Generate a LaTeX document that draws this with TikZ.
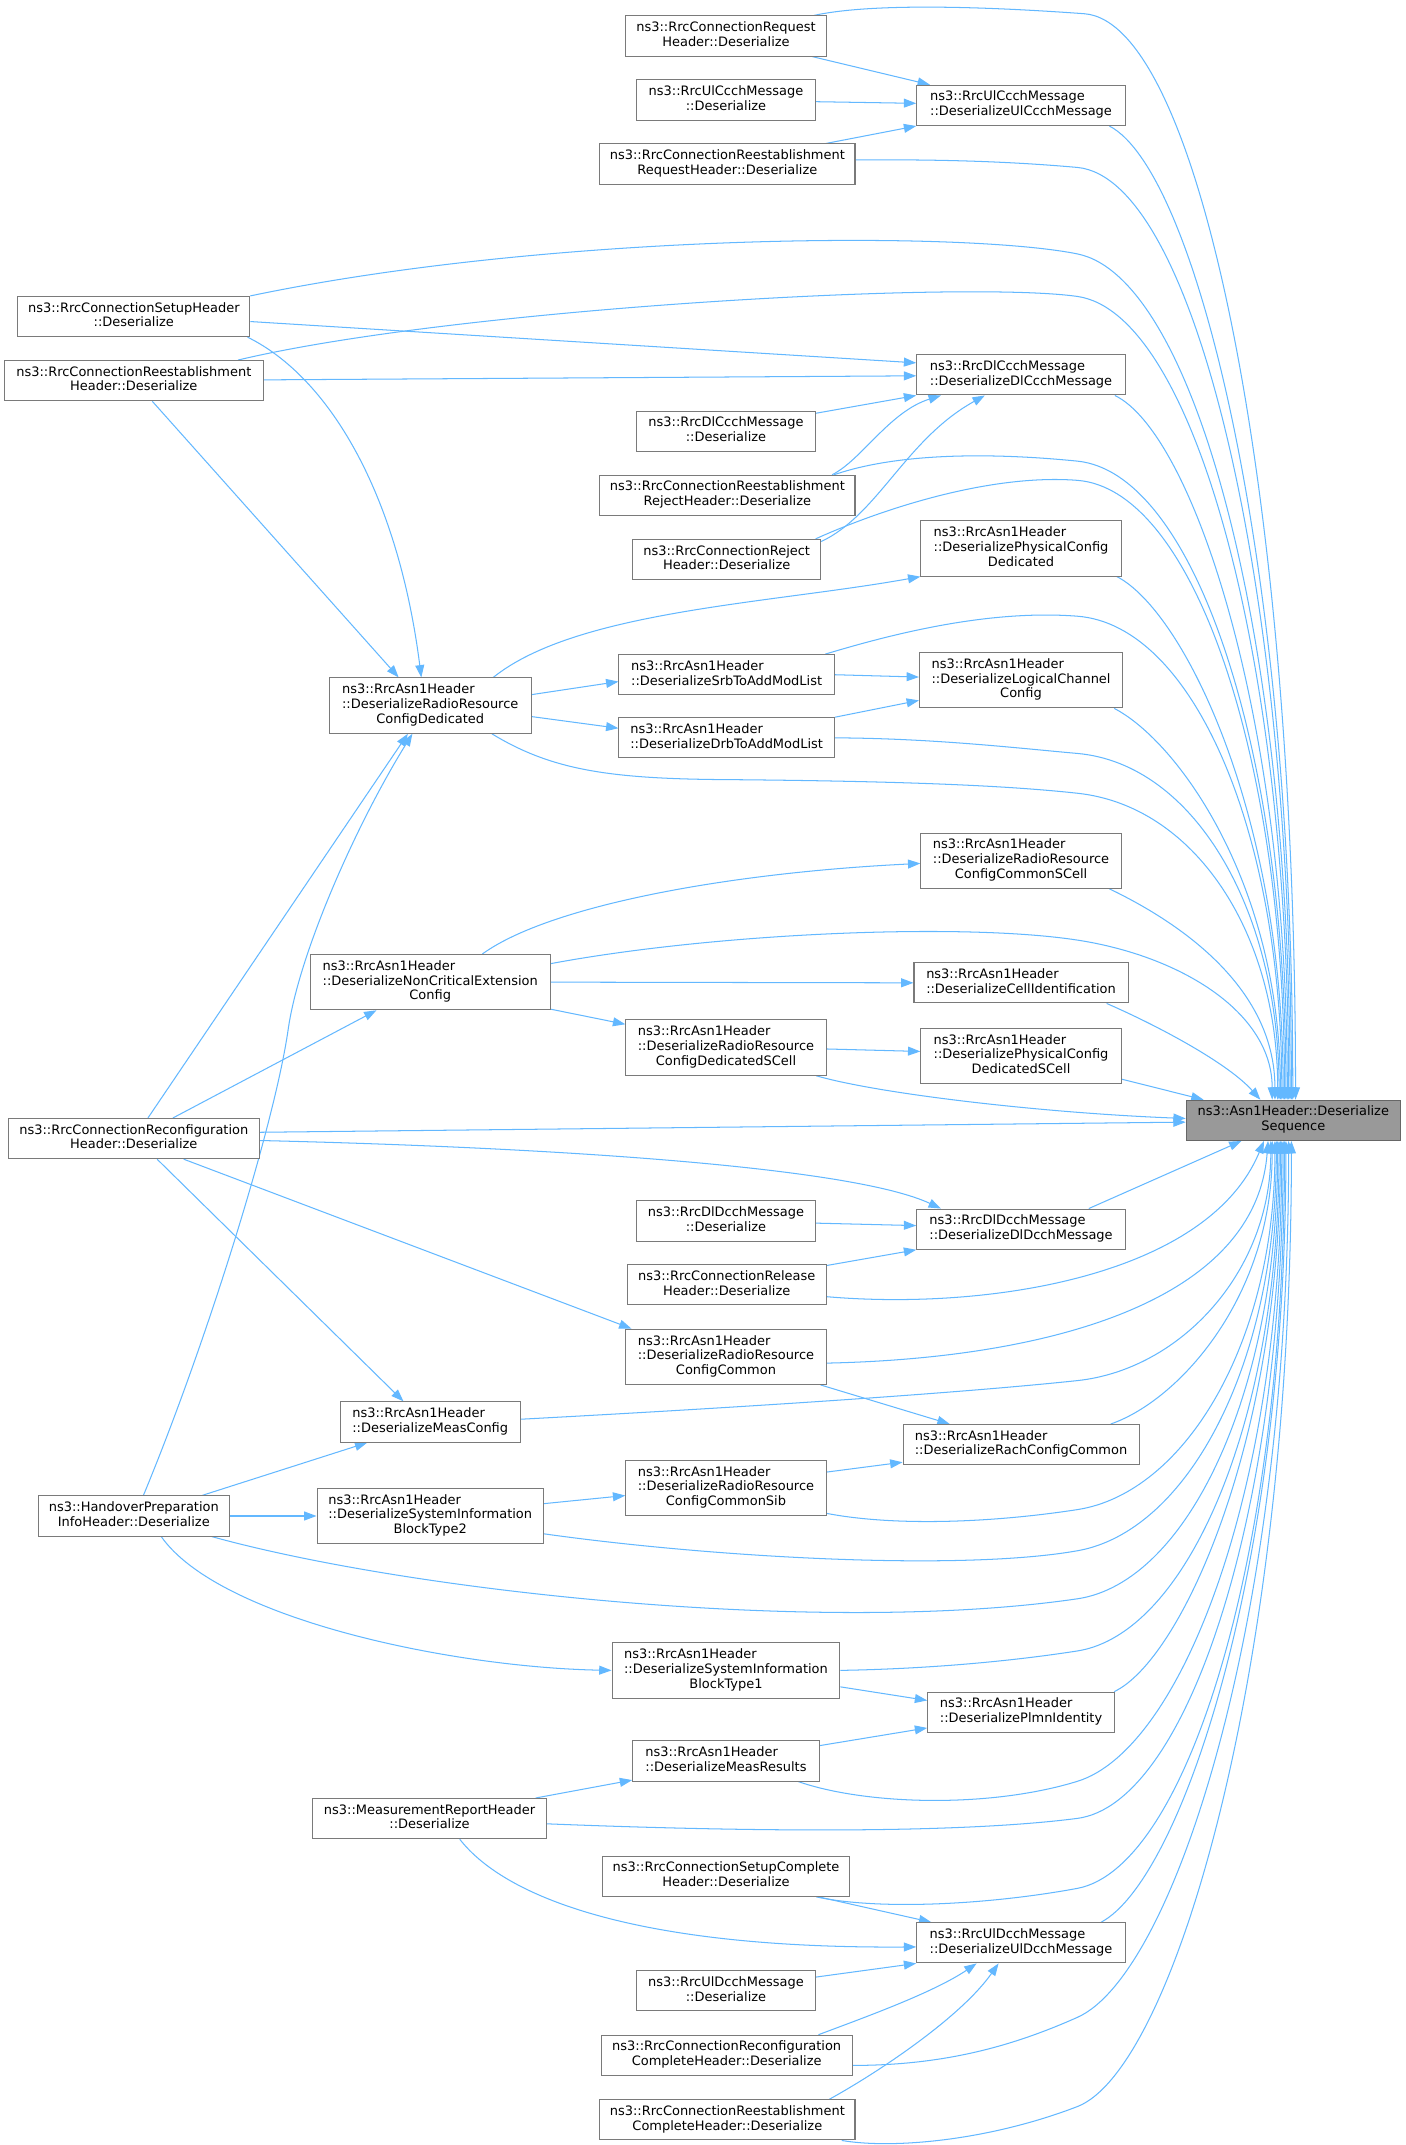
\documentclass[tikz,border=0pt]{standalone}
\usepackage{fontspec}
\setmainfont{DejaVu Sans}
\usetikzlibrary{arrows.meta,calc,backgrounds}
\definecolor{edgec}{HTML}{63B8FF}
\definecolor{boxc}{HTML}{7A7A7A}
\definecolor{tgtfill}{HTML}{999999}
\definecolor{tgtdraw}{HTML}{666666}
\newcommand{\nlab}[2]{\begin{tabular}{@{}l@{}}#1\\\multicolumn{1}{@{}c@{}}{#2}\end{tabular}}
\newcommand{\nodefont}{\fontsize{9.45}{10.7}\selectfont}
\begin{document}
\begin{tikzpicture}[x=1pt,y=-1pt,
  box/.style={draw=boxc, fill=white, line width=0.75pt, inner sep=0pt, minimum height=29.3pt, font=\nodefont},
  box3/.style={box, minimum height=40.3pt},
  tgt/.style={box, fill=tgtfill, draw=tgtdraw},
  e/.style={draw=edgec, line width=0.75pt, -{Triangle[length=9pt,width=6.5pt]}}]
\useasboundingbox (0,0) rectangle (1024,1563);
% nodes
\node[tgt, minimum width=156pt] (T) at (942.4,816.35) {\nlab{ns3::Asn1Header::Deserialize}{Sequence}};
\node[box, minimum width=146pt] (A1) at (529,26.25) {\nlab{ns3::RrcConnectionRequest}{Header::Deserialize}};
\node[box, minimum width=130pt] (A2) at (529,72.9) {\nlab{ns3::RrcUlCcchMessage}{::Deserialize}};
\node[box, minimum width=186pt] (A3) at (530,119.55) {\nlab{ns3::RrcConnectionReestablishment}{RequestHeader::Deserialize}};
\node[box, minimum width=152pt] (B1) at (744,76.8) {\nlab{ns3::RrcUlCcchMessage}{::DeserializeUlCcchMessage}};
\node[box, minimum width=169pt] (Setup) at (97.5,230.65) {\nlab{ns3::RrcConnectionSetupHeader}{::Deserialize}};
\node[box, minimum width=189pt] (ReestH) at (97.5,277.4) {\nlab{ns3::RrcConnectionReestablishment}{Header::Deserialize}};
\node[box, minimum width=152pt] (DlCcch) at (744,273.15) {\nlab{ns3::RrcDlCcchMessage}{::DeserializeDlCcchMessage}};
\node[box, minimum width=130pt] (DlCcchDes) at (529,314.15) {\nlab{ns3::RrcDlCcchMessage}{::Deserialize}};
\node[box, minimum width=186pt] (ReestReject) at (530,360.95) {\nlab{ns3::RrcConnectionReestablishment}{RejectHeader::Deserialize}};
\node[box, minimum width=137pt] (ConnReject) at (529.5,407.65) {\nlab{ns3::RrcConnectionReject}{Header::Deserialize}};
\node[box3, minimum width=146pt] (PhysDed) at (744,399.65) {\nlab{ns3::RrcAsn1Header\\::DeserializePhysicalConfig}{Dedicated}};
\node[box, minimum width=157pt] (Srb) at (529.5,491.65) {\nlab{ns3::RrcAsn1Header}{::DeserializeSrbToAddModList}};
\node[box3, minimum width=148pt] (LogCh) at (744,495.65) {\nlab{ns3::RrcAsn1Header\\::DeserializeLogicalChannel}{Config}};
\node[box3, minimum width=147pt] (RRCD) at (313.5,514.15) {\nlab{ns3::RrcAsn1Header\\::DeserializeRadioResource}{ConfigDedicated}};
\node[box, minimum width=157pt] (Drb) at (529.5,537.65) {\nlab{ns3::RrcAsn1Header}{::DeserializeDrbToAddModList}};
\node[box3, minimum width=146pt] (RRCCommonSCell) at (744,627.15) {\nlab{ns3::RrcAsn1Header\\::DeserializeRadioResource}{ConfigCommonSCell}};
\node[box3, minimum width=175pt] (NonCrit) at (313.5,715.65) {\nlab{ns3::RrcAsn1Header\\::DeserializeNonCriticalExtension}{Config}};
\node[box, minimum width=156pt] (CellId) at (744,716.15) {\nlab{ns3::RrcAsn1Header}{::DeserializeCellIdentification}};
\node[box3, minimum width=146pt] (RRCDedSCell) at (529,763.35) {\nlab{ns3::RrcAsn1Header\\::DeserializeRadioResource}{ConfigDedicatedSCell}};
\node[box3, minimum width=146pt] (PhysDedSCell) at (744,769.35) {\nlab{ns3::RrcAsn1Header\\::DeserializePhysicalConfig}{DedicatedSCell}};
\node[box, minimum width=183pt] (RecfgHeader) at (97.5,829.65) {\nlab{ns3::RrcConnectionReconfiguration}{Header::Deserialize}};
\node[box, minimum width=152pt] (DlDcch) at (744,895.65) {\nlab{ns3::RrcDlDcchMessage}{::DeserializeDlDcchMessage}};
\node[box, minimum width=130pt] (DlDcchDes) at (529,889.65) {\nlab{ns3::RrcDlDcchMessage}{::Deserialize}};
\node[box, minimum width=145pt] (ConnRelease) at (529.5,936.15) {\nlab{ns3::RrcConnectionRelease}{Header::Deserialize}};
\node[box3, minimum width=146pt] (RRCCommon) at (529,988.65) {\nlab{ns3::RrcAsn1Header\\::DeserializeRadioResource}{ConfigCommon}};
\node[box, minimum width=131pt] (MeasConfig) at (313.5,1036.15) {\nlab{ns3::RrcAsn1Header}{::DeserializeMeasConfig}};
\node[box, minimum width=172pt] (RachCfg) at (744,1052.65) {\nlab{ns3::RrcAsn1Header}{::DeserializeRachConfigCommon}};
\node[box3, minimum width=146pt] (RRCCommonSib) at (529,1084.15) {\nlab{ns3::RrcAsn1Header\\::DeserializeRadioResource}{ConfigCommonSib}};
\node[box, minimum width=139pt] (Handover) at (97.5,1104.65) {\nlab{ns3::HandoverPreparation}{InfoHeader::Deserialize}};
\node[box3, minimum width=165pt] (SIB2) at (313.5,1104.65) {\nlab{ns3::RrcAsn1Header\\::DeserializeSystemInformation}{BlockType2}};
\node[box3, minimum width=166pt] (SIB1) at (529,1217.15) {\nlab{ns3::RrcAsn1Header\\::DeserializeSystemInformation}{BlockType1}};
\node[box, minimum width=136pt] (Plmn) at (744,1247.65) {\nlab{ns3::RrcAsn1Header}{::DeserializePlmnIdentity}};
\node[box, minimum width=136pt] (MeasResults) at (529,1283.15) {\nlab{ns3::RrcAsn1Header}{::DeserializeMeasResults}};
\node[box, minimum width=170pt] (MeasReport) at (313,1325.15) {\nlab{ns3::MeasurementReportHeader}{::Deserialize}};
\node[box, minimum width=180pt] (SetupComplete) at (529,1367.15) {\nlab{ns3::RrcConnectionSetupComplete}{Header::Deserialize}};
\node[box, minimum width=152pt] (UlDcch) at (744,1415.65) {\nlab{ns3::RrcUlDcchMessage}{::DeserializeUlDcchMessage}};
\node[box, minimum width=130pt] (UlDcchDes) at (529,1450.65) {\nlab{ns3::RrcUlDcchMessage}{::Deserialize}};
\node[box, minimum width=183pt] (RecfgComplete) at (529.5,1497.65) {\nlab{ns3::RrcConnectionReconfiguration}{CompleteHeader::Deserialize}};
\node[box, minimum width=186pt] (ReestComplete) at (530,1544.65) {\nlab{ns3::RrcConnectionReestablishment}{CompleteHeader::Deserialize}};
\begin{scope}[on background layer]
\fill[white] (0,0) rectangle (1024,1563);
% edges into target from above / left
\draw[e] ($(A1.north east)+(-9.2,0)$) .. controls (640,1) and (735,6) .. (790,10) .. controls (875,16) and (944,366) .. ($(T.north)+(1.6,0)$);
\draw[e] ($(B1.south east)+(-12,0)$) .. controls (872,125) and (942,411) .. ($(T.north)+(-0.4,0)$);
\draw[e] ($(A3.east)+(0,-3)$) .. controls (690,116) and (740,118) .. (785,122) .. controls (871,130) and (941,428) .. ($(T.north)+(-1.4,0)$);
\draw[e] (Setup.north east) .. controls (400,170) and (700,168) .. (785,185) .. controls (870,202) and (940,462) .. ($(T.north)+(-2.4,0)$);
\draw[e] ($(ReestH.north east)+(-19,0)$) .. controls (330,225) and (700,204) .. (785,216) .. controls (870,228) and (939,480) .. ($(T.north)+(-3.4,0)$);
\draw[e] ($(DlCcch.south east)+(-8,0)$) .. controls (868,315) and (938,519) .. ($(T.north)+(-4.4,0)$);
\draw[e] ($(ReestReject.north east)+(-15.6,0)$) .. controls (660,328) and (735,331) .. (785,336) .. controls (870,344.5) and (937,545) .. ($(T.north)+(-5.4,0)$);
\draw[e] ($(ConnReject.north east)+(-4,0)$) .. controls (640,372) and (720,345) .. (785,350) .. controls (870,356.5) and (936,553) .. ($(T.north)+(-6.4,0)$);
\draw[e] ($(PhysDed.south east)+(-3.5,0)$) .. controls (862,445) and (935,592) .. ($(T.north)+(-7.4,0)$);
\draw[e] ($(Srb.north east)+(-7,0)$) .. controls (650,462) and (720,444) .. (785,449) .. controls (870,455.5) and (934,608) .. ($(T.north)+(-8.4,0)$);
\draw[e] ($(LogCh.south east)+(-6.5,0)$) .. controls (858,540) and (933,644) .. ($(T.north)+(-9.4,0)$);
\draw[e] (Drb.east) .. controls (680,538) and (740,545) .. (785,549) .. controls (870,556.5) and (932,663) .. ($(T.north)+(-10.4,0)$);
\draw[e] ($(RRCD.south east)+(-29,0)$) .. controls (400,560) and (440,567) .. (520,568) .. controls (650,569) and (730,572) .. (785,578) .. controls (870,587) and (931,679) .. ($(T.north)+(-11.4,0)$);
\draw[e] ($(RRCCommonSCell.south east)+(-9,0)$) .. controls (855,670) and (929,717) .. ($(T.north)+(-13.4,0)$);
\draw[e] ($(NonCrit.east)+(0,-13.5)$) .. controls (520,680) and (700,672) .. (785,685) .. controls (860,696.5) and (927,737.5) .. ($(T.north)+(-15.4,0)$);
\draw[e] ($(CellId.south east)+(-16,0)$) .. controls (845,748) and (895,775) .. ($(T.north)+(-24,0)$);
\draw[e] ($(PhysDedSCell.east)+(0,17)$) -- ($(T.north west)+(13,0)$);
\draw[e] ($(RRCDedSCell.south east)+(-7.6,0)$) .. controls (640,797) and (760,811) .. ($(T.west)+(0,-1.35)$);
\draw[e] ($(RecfgHeader.east)+(0,-4.6)$) -- ($(T.west)+(0,1.3)$);
% edges into target from below
\draw[e] ($(DlDcch.north east)+(-27,0)$) -- ($(T.south west)+(40.6,0)$);
\draw[e] ($(ConnRelease.east)+(0,8.7)$) .. controls (720,955) and (880,930) .. ($(T.south)+(-21.4,0)$);
\draw[e] ($(RRCCommon.east)+(0,4.6)$) .. controls (760,990) and (915,950) .. ($(T.south)+(-18.4,0)$);
\draw[e] ($(MeasConfig.east)+(0,-2)$) .. controls (550,1025) and (700,1015) .. (785,1006) .. controls (860,998) and (926,927) .. ($(T.south)+(-16.4,0)$);
\draw[e] ($(RachCfg.north east)+(-21,0)$) .. controls (860,1020) and (927,944) .. ($(T.south)+(-15.4,0)$);
\draw[e] ($(RRCCommonSib.south east)+(-0.4,-2)$) .. controls (650,1112) and (720,1110) .. (785,1100) .. controls (863,1088) and (929,979) .. ($(T.south)+(-13.4,0)$);
\draw[e] ($(SIB2.east)+(0,13)$) .. controls (520,1135) and (700,1145) .. (785,1130) .. controls (865,1116) and (930,995) .. ($(T.south)+(-12.4,0)$);
\draw[e] ($(Handover.south east)+(-13,0)$) .. controls (300,1160) and (600,1192) .. (785,1165) .. controls (865,1153.3) and (931,1014.7) .. ($(T.south)+(-11.4,0)$);
\draw[e] (SIB1.east) .. controls (680,1216) and (740,1210) .. (785,1203) .. controls (865,1190.5) and (932,1035.6) .. ($(T.south)+(-10.4,0)$);
\draw[e] ($(Plmn.north east)+(-0.5,0)$) .. controls (860,1210) and (933,1052) .. ($(T.south)+(-9.4,0)$);
\draw[e] ($(MeasResults.south east)+(-15.7,0)$) .. controls (630,1315) and (720,1318) .. (785,1298) .. controls (860,1275) and (934,1088) .. ($(T.south)+(-8.4,0)$);
\draw[e] ($(MeasReport.east)+(0,3.8)$) .. controls (550,1335) and (700,1336) .. (785,1325) .. controls (865,1314.6) and (935,1102.7) .. ($(T.south)+(-7.4,0)$);
\draw[e] ($(SetupComplete.south east)+(-24.6,0)$) .. controls (640,1392) and (720,1388) .. (785,1376) .. controls (865,1361) and (936,1133) .. ($(T.south)+(-6.4,0)$);
\draw[e] ($(UlDcch.north east)+(-18,0)$) .. controls (860,1370) and (937,1144.5) .. ($(T.south)+(-5.4,0)$);
\draw[e] ($(RecfgComplete.east)+(0,7.35)$) .. controls (690,1505) and (740,1490) .. (785,1470) .. controls (855,1439) and (939,1182) .. ($(T.south)+(-3.4,0)$);
\draw[e] ($(ReestComplete.south east)+(-10,0)$) .. controls (650,1566) and (720,1560) .. (785,1535) .. controls (855,1508) and (941,1218) .. ($(T.south)+(-1.4,0)$);
% other edges
\draw[e] ($(A1.south east)+(-10.4,0)$) -- ($(B1.north west)+(10,0)$);
\draw[e] ($(A2.east)+(0,1.2)$) -- ($(B1.west)+(0,-1.5)$);
\draw[e] ($(A3.north east)+(-21.5,0)$) -- (B1.south west);
\draw[e] ($(Setup.east)+(0,3.65)$) -- ($(DlCcch.west)+(0,-8.75)$);
\draw[e] ($(ReestH.east)+(0,-0.6)$) -- ($(DlCcch.west)+(0,0.7)$);
\draw[e] ($(DlCcchDes.east)+(0,-13)$) -- (DlCcch.south west);
\draw[e] ($(ReestReject.north east)+(-17,0)$) .. controls (628,335) and (648,300) .. ($(DlCcch.south west)+(18,0)$);
\draw[e] ($(ConnReject.north east)+(0,2)$) .. controls (640,375) and (660,320) .. ($(DlCcch.south west)+(50,0)$);
\draw[e] ($(Setup.south east)+(-2,0)$) .. controls (240,275) and (290,360) .. ($(RRCD.north)+(-6.5,0)$);
\draw[e] ($(ReestH.south)+(13.5,0)$) -- ($(RRCD.north)+(-23,0)$);
\draw[e] ($(RecfgHeader.north)+(10.3,0)$) -- ($(RRCD.south)+(-16.3,0)$);
\draw[e] ($(Handover.north)+(7,0)$) .. controls (150,980) and (200,820) .. (210,750) .. controls (218,694) and (260,600) .. ($(RRCD.south)+(-13,0)$);
\draw[e] ($(RRCD.north east)+(-28,0)$) .. controls (420,445) and (560,440) .. (PhysDed.south west);
\draw[e] ($(RRCD.east)+(0,-8)$) -- ($(Srb.west)+(0,5)$);
\draw[e] ($(RRCD.east)+(0,8)$) -- ($(Drb.west)+(0,-7)$);
\draw[e] (Srb.east) -- ($(LogCh.west)+(0,-2.3)$);
\draw[e] (Drb.north east) -- ($(LogCh.west)+(0,14.7)$);
\draw[e] ($(NonCrit.north)+(38,0)$) .. controls (400,660) and (530,636) .. ($(RRCCommonSCell.west)+(0,2)$);
\draw[e] (NonCrit.east) -- (CellId.west);
\draw[e] ($(NonCrit.south east)+(0,-0.8)$) -- ($(RRCDedSCell.west)+(0,-17)$);
\draw[e] ($(RecfgHeader.north)+(28.5,0)$) -- ($(NonCrit.south)+(-39.2,0)$);
\draw[e] ($(RRCDedSCell.east)+(0,1)$) -- ($(PhysDedSCell.west)+(0,-3.2)$);
\draw[e] ($(RecfgHeader.east)+(0,1.4)$) .. controls (400,836) and (620,850) .. ($(DlDcch.north west)+(18,0)$);
\draw[e] ($(RecfgHeader.south)+(36.4,0)$) -- ($(RRCCommon.north west)+(4.5,0)$);
\draw[e] ($(RecfgHeader.south)+(17,0)$) -- ($(MeasConfig.north)+(-19.5,0)$);
\draw[e] ($(DlDcchDes.east)+(0,1.6)$) -- ($(DlDcch.west)+(0,-2.6)$);
\draw[e] ($(ConnRelease.north east)+(0,1)$) -- (DlDcch.south west);
\draw[e] ($(RRCCommon.south east)+(-4.4,0)$) -- ($(RachCfg.north west)+(34.4,0)$);
\draw[e] ($(RRCCommonSib.east)+(0,-11.5)$) -- ($(RachCfg.south west)+(0,-2.2)$);
\draw[e] ($(Handover.north east)+(-20,0)$) -- ($(MeasConfig.south west)+(20,0)$);
\draw[e] (Handover.east) -- (SIB2.west);
\draw[e] ($(Handover.south)+(20,0)$) .. controls (160,1180) and (330,1215) .. (SIB1.west);
\draw[e] ($(SIB2.east)+(0,-9)$) -- ($(RRCCommonSib.west)+(0,5.6)$);
\draw[e] ($(SIB1.east)+(0,12)$) -- ($(Plmn.west)+(0,-8.6)$);
\draw[e] ($(MeasResults.east)+(0,-11.2)$) -- ($(Plmn.south west)+(0,-3.6)$);
\draw[e] ($(MeasReport.north east)+(-8,0)$) -- ($(MeasResults.south west)+(0,-1.1)$);
\draw[e] ($(MeasReport.south)+(22,0)$) .. controls (370,1385) and (470,1420) .. ($(UlDcch.west)+(0,3)$);
\draw[e] ($(SetupComplete.south east)+(-23,0)$) -- ($(UlDcch.north west)+(11,0)$);
\draw[e] ($(UlDcchDes.east)+(0,-10)$) -- (UlDcch.south west);
\draw[e] ($(RecfgComplete.north east)+(-25,0)$) .. controls (630,1470) and (680,1452) .. ($(UlDcch.south west)+(44,0)$);
\draw[e] ($(ReestComplete.north east)+(-19,0)$) .. controls (640,1510) and (700,1470) .. ($(UlDcch.south west)+(60,0)$);
\end{scope}
\end{tikzpicture}
\end{document}
